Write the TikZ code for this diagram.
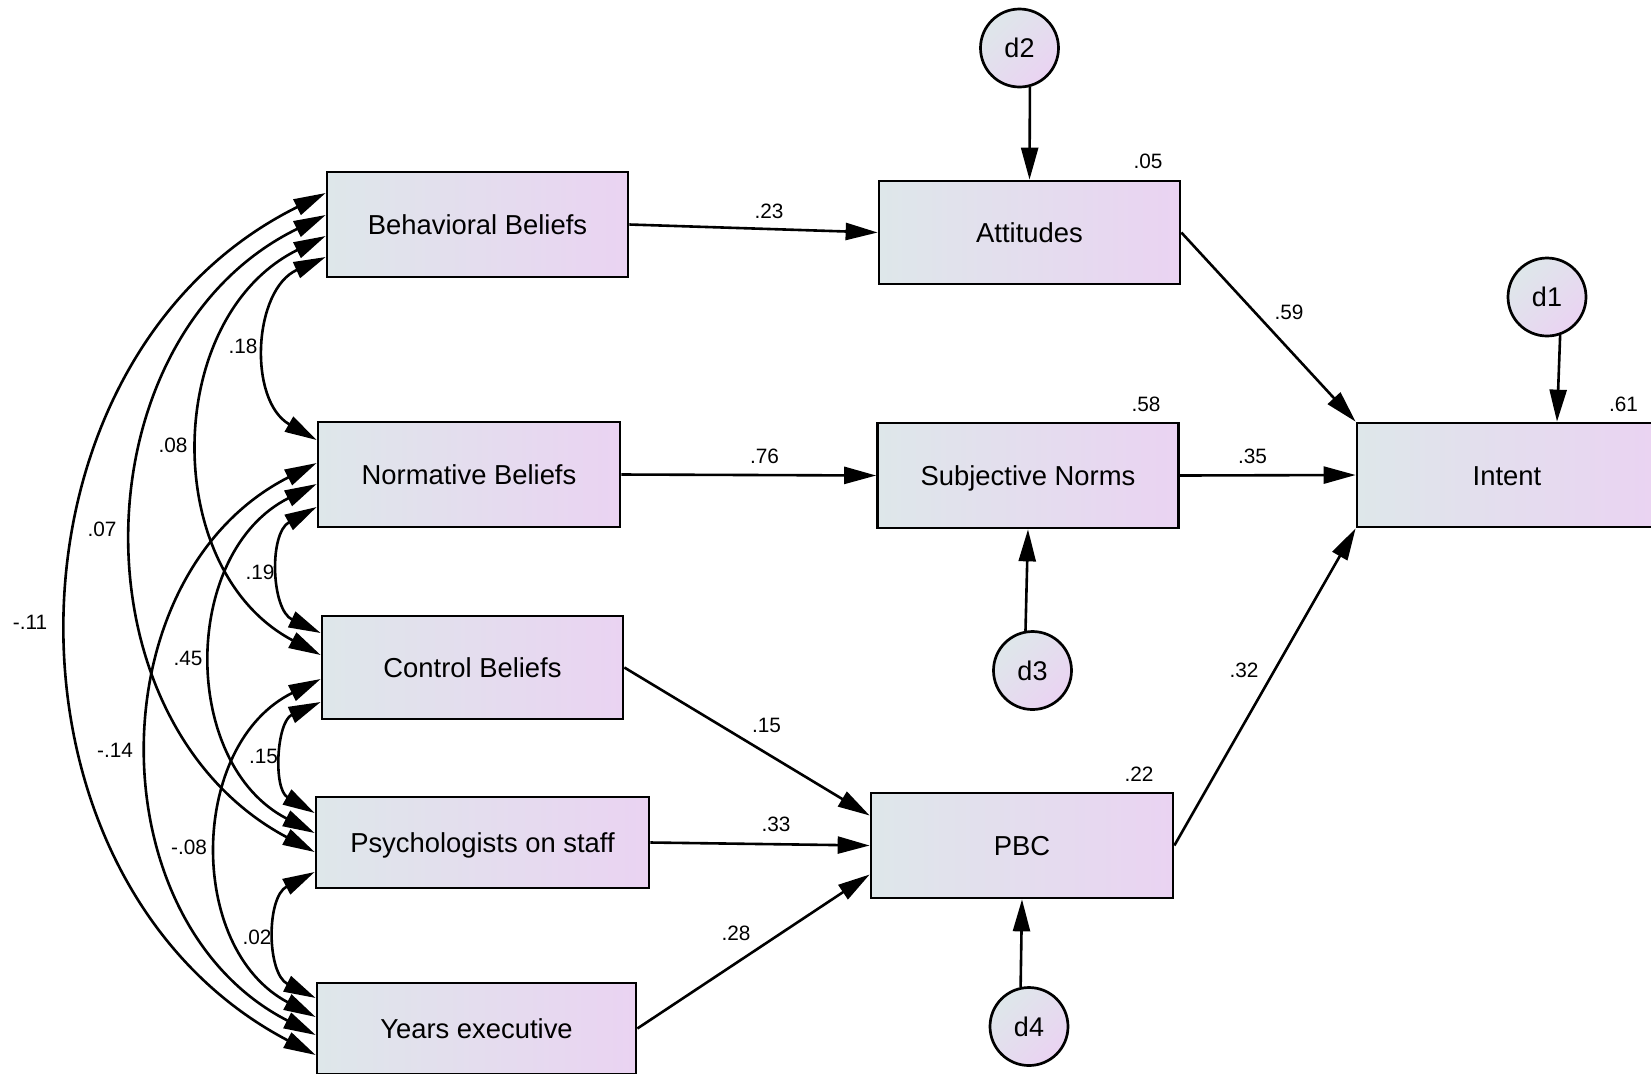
\documentclass[tikz,border=0pt]{standalone}
\usepackage{fontspec}
\setmainfont{Liberation Sans}
\usetikzlibrary{arrows.meta,calc}
\definecolor{fillL}{HTML}{DEE7EA}
\definecolor{fillR}{HTML}{EAD3F2}

\begin{document}
\begin{tikzpicture}[x=0.5pt,y=-0.5pt,
  var/.style={draw=black, line width=1.35pt, left color=fillL, right color=fillR,
    inner sep=0pt, text height=10pt, text depth=0pt, font=\fontsize{13.7}{16}\selectfont},
  err/.style={circle, draw=black, line width=1.35pt, left color=fillL, right color=fillR,
    shading angle=45, minimum size=39pt, inner sep=0pt, font=\fontsize{13.5}{16}\selectfont},
  coef/.style={inner sep=0pt, font=\fontsize{10.4}{12}\selectfont},
  reg/.style={line width=1.3pt, -{Triangle[length=16pt,width=8.5pt]}},
  cov/.style={line width=1.3pt,
    {Triangle[length=16pt,width=8.5pt]}-{Triangle[length=16pt,width=8.5pt]},
    bend right=63, looseness=1.11},
]
% canvas (pixel-like units, y downward)
\clip (0,0) rectangle (1651,1073);
\fill[white] (0,0) rectangle (1651,1073);

% observed variables
\node[var, minimum width=150.5pt, minimum height=52.5pt] (bb)  at (477.5,224.5) {Behavioral Beliefs};
\node[var, minimum width=151pt,   minimum height=52.5pt] (nb)  at (469,474.5)   {Normative Beliefs};
\node[var, minimum width=150.5pt, minimum height=51.5pt] (cb)  at (472.5,667.5) {Control Beliefs};
\node[var, minimum width=166.5pt, minimum height=45.5pt] (ps)  at (482.5,842.5) {Psychologists on staff};
\node[var, minimum width=159.5pt, minimum height=45.5pt] (ye)  at (476.5,1028.5) {Years executive};
\node[var, minimum width=150.5pt, minimum height=51.5pt] (att) at (1029.5,232.5) {Attitudes};
\node[var, minimum width=150.5pt, minimum height=52.5pt] (sn)  at (1028,475.5)  {Subjective Norms};
\node[var, minimum width=151pt,   minimum height=52.5pt] (pbc) at (1022,845.5)  {PBC};
\node[var, minimum width=150pt,   minimum height=52pt]   (int) at (1507,475)    {Intent};

% disturbances
\node[err] (d2) at (1019.5,48)    {d2};
\node[err] (d1) at (1547,297)     {d1};
\node[err] (d3) at (1032.5,670.5) {d3};
\node[err] (d4) at (1029,1026.5)  {d4};

% regression paths
\draw[reg] (bb.east)  -- (att.west);
\draw[reg] (nb.east)  -- (sn.west);
\draw[reg] (cb.east)  -- ($(pbc.west)+(0,-30)$);
\draw[reg] (ps.east)  -- (pbc.west);
\draw[reg] (ye.east)  -- ($(pbc.west)+(0,29)$);
\draw[reg] (att.east) -- (int.north west);
\draw[reg] (sn.east)  -- (int.west);
\draw[reg] (pbc.east) -- (int.south west);
\draw[reg] (d2.-75)   -- (att.north);
\draw[reg] (d1.-71)   -- ($(int.north)+(50,0)$);
\draw[reg] (d3.100)   -- (sn.south);
\draw[reg] (d4.102)   -- (pbc.south);

% covariances among the exogenous variables
\draw[cov] ($(bb.west)+(0,-31.5)$) to ($(ye.west)+(0,26.5)$);
\draw[cov] ($(bb.west)+(0,-9.5)$)  to ($(ps.west)+(0,9.5)$);
\draw[cov] ($(bb.west)+(0,11.5)$)  to ($(cb.west)+(0,-12.5)$);
\draw[cov] ($(bb.west)+(0,32.5)$)  to ($(nb.west)+(0,-34.5)$);
\draw[cov] ($(nb.west)+(0,-11.5)$) to ($(ye.west)+(0,6.5)$);
\draw[cov] ($(nb.west)+(0,9.5)$)   to ($(ps.west)+(0,-9.5)$);
\draw[cov] ($(nb.west)+(0,32.5)$)  to ($(cb.west)+(0,-34.5)$);
\draw[cov] ($(cb.west)+(0,11.5)$)  to ($(ye.west)+(0,-11.5)$);
\draw[cov] ($(cb.west)+(0,34.5)$)  to ($(ps.west)+(0,-29.5)$);
\draw[cov] ($(ps.west)+(0,29.5)$)  to ($(ye.west)+(0,-30.5)$);

% path coefficients
\node[coef] (c23) at (769,211)    {.23};
\node[coef] (c76) at (764.5,456)  {.76};
\node[coef] (c15p) at (766.5,725.5) {.15};
\node[coef] (c33) at (776,824)    {.33};
\node[coef] (c28) at (736,933)    {.28};
\node[coef] (c59) at (1289,312)   {.59};
\node[coef] (c35) at (1252.5,456) {.35};
\node[coef] (c32) at (1244,670)   {.32};

% squared multiple correlations
\node[coef] (r05) at (1148,161)   {.05};
\node[coef] (r58) at (1146,404.5) {.58};
\node[coef] (r22) at (1139,774)   {.22};
\node[coef] (r61) at (1623.5,404) {.61};

% correlations
\node[coef] (k18) at (243,346)   {.18};
\node[coef] (k08) at (173,445)   {.08};
\node[coef] (k07) at (102,529)   {.07};
\node[coef] (k11) at (30,622)    {-.11};
\node[coef] (k19) at (260,572)   {.19};
\node[coef] (k45) at (188,658)   {.45};
\node[coef] (k14) at (115,750)   {-.14};
\node[coef] (k15) at (263.5,756) {.15};
\node[coef] (k08n) at (189,847)  {-.08};
\node[coef] (k02) at (257,937.5) {.02};
\end{tikzpicture}
\end{document}
